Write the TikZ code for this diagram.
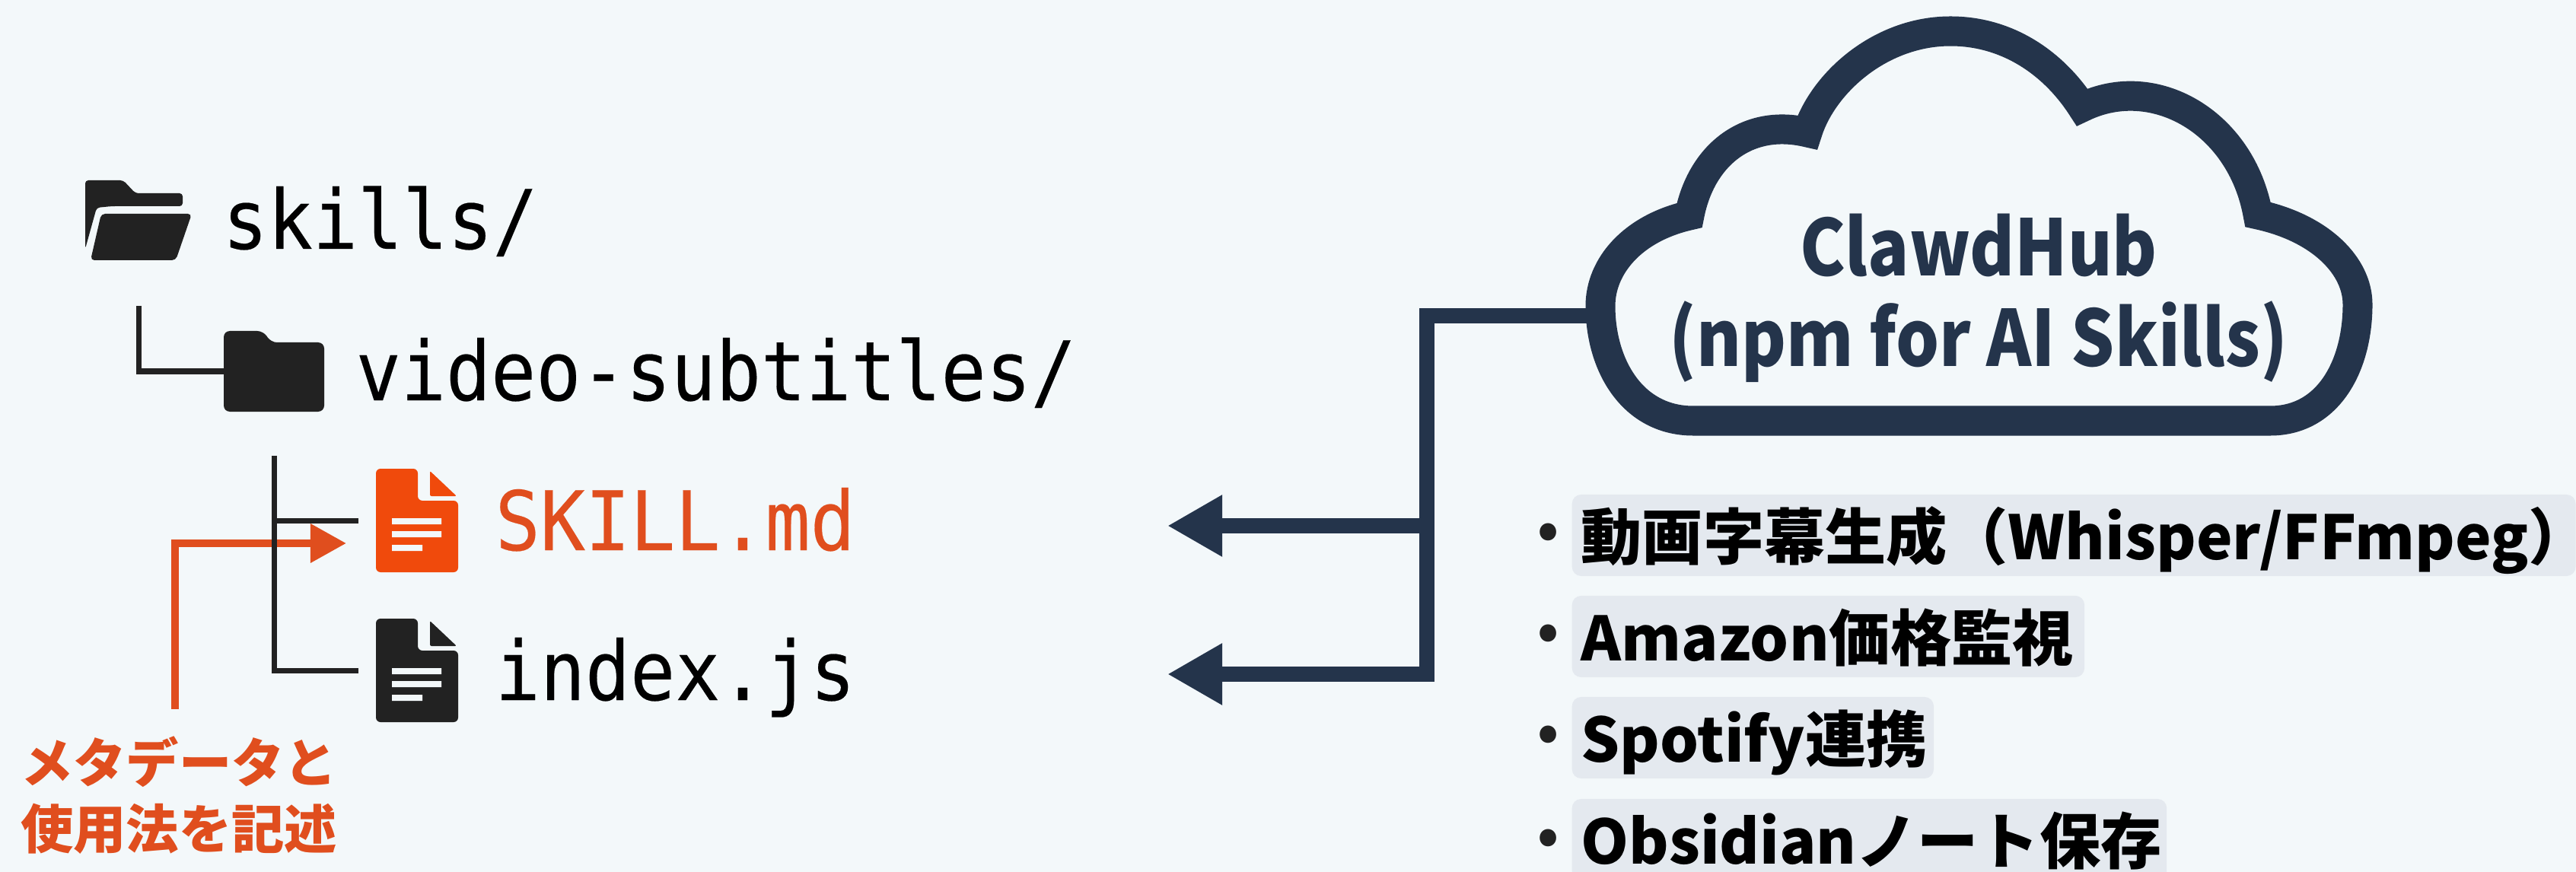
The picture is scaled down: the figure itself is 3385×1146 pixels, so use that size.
\documentclass[tikz,border=0pt]{standalone}
\usepackage{fontspec}
\usepackage{xcolor}
\usetikzlibrary{arrows.meta}
\setmainfont{Noto Sans CJK JP}
\newfontfamily\monofont[FakeStretch=0.91]{DejaVu Sans Mono}

\definecolor{paper}{HTML}{F3F8FA}
\definecolor{ink}{HTML}{222222}
\definecolor{navy}{HTML}{24344B}
\definecolor{flame}{HTML}{F04A0C}
\definecolor{flametext}{HTML}{E04E1E}
\definecolor{chipgray}{HTML}{E4E9EF}

\tikzset{
  mono/.style={anchor=base west, inner sep=0pt, font=\monofont\fontsize{30.7}{36}\selectfont\addfontfeature{FakeBold=0.2}},
  icon/.style={inner sep=0pt, minimum width=1.08cm, minimum height=1.36cm},
  treeline/.style={draw=ink, line width=0.07cm},
  hubline/.style={draw=navy, line width=0.2cm},
  hubarrow/.style={hubline, -{Triangle[length=0.72cm, width=0.76cm]}},
  notearrow/.style={draw=flametext, line width=0.1cm, -{Triangle[length=0.47cm, width=0.49cm]}},
  chip/.style={anchor=base west, fill=chipgray, rounded corners=0.12cm, inner xsep=0.12cm, inner ysep=0pt,
    text height=0.85cm, text depth=0.22cm, text=black, font=\bfseries\fontsize{22.8}{28}\selectfont},
  dot/.style={inner sep=0pt, text=ink, font=\bfseries\fontsize{20}{24}\selectfont},
  pics/docicon/.style={code={
    \fill[#1, rounded corners=0.06cm] (-54,-68) -- (1,-68) -- (1,-26) -- (54,-26) -- (54,68) -- (-54,68) -- cycle;
    \fill[#1, rounded corners=0.02cm] (17,-65) -- (52,-32) -- (17,-32) -- cycle;
    \fill[paper] (-33,-3) rectangle (32,5) (-33,14) rectangle (32,22) (-33,32) rectangle (7,40);
  }},
  pics/openfolder/.style={code={
    \fill[ink, rounded corners=0.04cm] (-70,-53) -- (-20,-53) -- (-4,-36) -- (58,-36) -- (58,-19) -- (-35,-19) -- (-55,-17) -- (-70,37) -- cycle;
    \fill[ink, rounded corners=0.05cm] (-49,-9) -- (70,-9) -- (49,52) -- (-63,52) -- cycle;
  }},
  pics/closedfolder/.style={code={
    \fill[ink, rounded corners=0.08cm] (-66,-53) -- (-14,-53) -- (-4,-38) -- (66,-38) -- (66,53) -- (-66,53) -- cycle;
  }}
}

\begin{document}
\begin{tikzpicture}[x=0.01cm, y=-0.01cm]
            \useasboundingbox (0,0) rectangle (3385,1146);
            \clip (0,0) rectangle (3385,1146);
            \fill[paper] (0,0) rectangle (3385,1146);

            % Nodes
            \node[icon] (skillsIcon) at (182,290) {};
            \node[mono] (skills) at (292,327) {skills/};
            \node[icon] (videoIcon) at (360,488) {};
            \node[mono] (video) at (467,526) {video-subtitles/};
            \node[icon] (skillIcon) at (548,684) {};
            \node[mono, text=flametext] (skillmd) at (650,723) {SKILL.md};
            \node[icon] (indexIcon) at (548,881) {};
            \node[mono] (indexjs) at (650,920) {index.js};
            \node[align=center, inner sep=0pt, outer ysep=0.36cm, text=flametext, font=\bfseries\fontsize{19.7}{24.5}\selectfont] (note) at (235,1045) {メタデータと\\使用法を記述};
            \node[align=center, inner sep=0pt, text=navy, font=\bfseries\fontsize{29}{33.9}\selectfont\addfontfeature{FakeStretch=0.88}] (hub) at (2600,392) {ClawdHub\\(npm for AI Skills)};

            \node[chip, text width=12.94cm] (item1) at (2065,735) {動画字幕生成（Whisper/FFmpeg）};
            \node[chip, text width=6.49cm] (item2) at (2065,868) {Amazon価格監視};
            \node[chip, text width=4.51cm] (item3) at (2065,1001) {Spotify連携};
            \node[chip, text width=7.57cm] (item4) at (2065,1135) {Obsidianノート保存};
            \node[dot] (dot1) at (2035,704) {•};
            \node[dot] (dot2) at (2035,837) {•};
            \node[dot] (dot3) at (2035,970) {•};
            \node[dot] (dot4) at (2035,1106) {•};

            \coordinate (cloudEdge) at (2085,415);
            \coordinate (hubCorner) at (1875,415);
            \coordinate (hubMid) at (1875,691);
            \coordinate (hubLow) at (1875,886);
            \coordinate (tipMid) at (1534,691);
            \coordinate (tipLow) at (1534,886);
            \coordinate (noteBend) at (230,714);
            \coordinate (noteTip) at (455,714);

            % Icons
            \pic at (182,290) {openfolder};
            \pic at (360,488) {closedfolder};
            \pic at (548,684) {docicon=flame};
            \pic at (548,881) {docicon=ink};

            % Cloud
            \draw[navy, line width=0.39cm, line join=miter, miter limit=3]
              (2225,553) .. controls (2145,553) and (2103,480) .. (2103,402)
              .. controls (2103,350) and (2145,300) .. (2220,283)
              .. controls (2235,205) and (2295,155) .. (2375,174)
              .. controls (2395,110) and (2470,41) .. (2563,41)
              .. controls (2640,41) and (2700,85) .. (2736,141)
              .. controls (2830,95) and (2945,160) .. (2967,282)
              .. controls (3050,300) and (3098,350) .. (3098,400)
              .. controls (3098,480) and (3060,553) .. (2983,553)
              -- cycle;

            % Lines
            \draw[notearrow] (note.north -| noteBend) -- (noteBend) -- (noteTip);
            \draw[treeline, shorten <=0.43cm] (skillsIcon.south) |- (videoIcon.west);
            \draw[treeline, shorten <=0.42cm, shorten >=0.22cm] (videoIcon.south) |- (indexIcon.west);
            \draw[treeline, shorten >=0.22cm] (videoIcon.south |- skillIcon.west) -- (skillIcon.west);
            \draw[hubarrow] (cloudEdge) -- (hubCorner) -- (hubLow) -- (tipLow);
            \draw[hubarrow] (hubMid) -- (tipMid);
        \end{tikzpicture}
\end{document}
